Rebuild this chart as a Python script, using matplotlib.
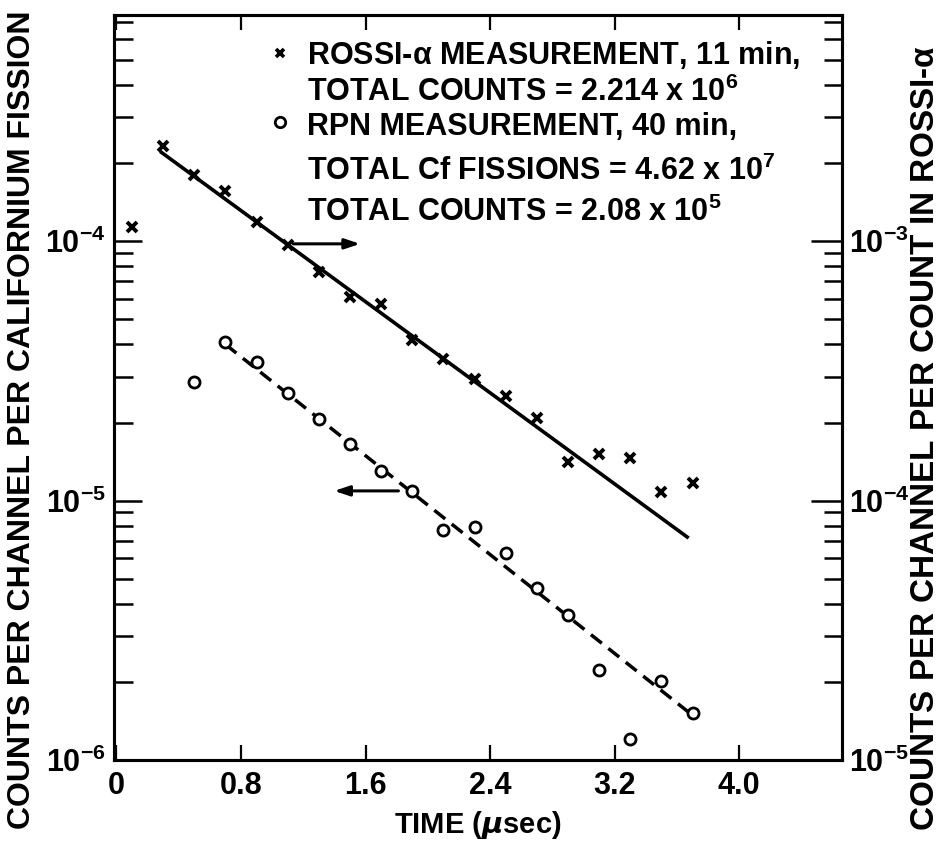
import matplotlib
matplotlib.use("Agg")
import matplotlib.pyplot as plt
from matplotlib.ticker import LogLocator, FixedLocator, FixedFormatter, NullFormatter

plt.rcParams['font.family'] = ['Liberation Sans', 'DejaVu Sans']
plt.rcParams['font.weight'] = 'bold'
plt.rcParams['mathtext.default'] = 'regular'

# ---- data ----
rossi_t = [0.1, 0.3, 0.5, 0.7, 0.9, 1.1, 1.3, 1.5, 1.7, 1.9, 2.1, 2.3, 2.5, 2.7, 2.9, 3.1, 3.3, 3.5, 3.7]
rossi_y = [1.13e-4, 2.32e-4, 1.80e-4, 1.556e-4, 1.19e-4, 0.963e-4, 0.76e-4, 0.607e-4, 5.71e-5,
           4.16e-5, 3.51e-5, 2.94e-5, 2.54e-5, 2.09e-5, 1.41e-5, 1.51e-5, 1.46e-5, 1.08e-5, 1.17e-5]

rpn_t = [0.5, 0.7, 0.9, 1.1, 1.3, 1.5, 1.7, 1.9, 2.1, 2.3, 2.5, 2.7, 2.9, 3.1, 3.3, 3.5, 3.7]
rpn_y = [2.87e-5, 4.07e-5, 3.42e-5, 2.60e-5, 2.06e-5, 1.66e-5, 1.30e-5, 1.09e-5, 7.71e-6,
         7.90e-6, 6.3e-6, 4.61e-6, 3.63e-6, 2.22e-6, 1.20e-6, 2.01e-6, 1.52e-6]

rossi_fit_t = [0.28, 3.675]
rossi_fit_y = [2.22e-4, 7.17e-6]
rpn_fit_t = [0.7, 3.68]
rpn_fit_y = [4.0e-5, 1.52e-6]

x_ticks = [0, 0.8, 1.6, 2.4, 3.2, 4.0]
x_labels = ['0', '0.8', '1.6', '2.4', '3.2', '4.0']
left_ticks = [1e-6, 1e-5, 1e-4]
left_labels = ['$10^{-6}$', '$10^{-5}$', '$10^{-4}$']
right_ticks = [1e-5, 1e-4, 1e-3]
right_labels = ['$10^{-5}$', '$10^{-4}$', '$10^{-3}$']

W, H = 948, 844
fig = plt.figure(figsize=(W / 100, H / 100), dpi=100)
ax = fig.add_axes([114 / W, 1 - 760 / H, (842 - 114) / W, (760 - 15) / H])

ax.set_yscale('log')
ax.set_xlim(-0.016, 4.66)
ax.set_ylim(1e-6, 7.45e-4)

# fits
ax.plot(rossi_fit_t, rossi_fit_y, color='black', lw=2.6, solid_capstyle='butt')
ax.plot(rpn_fit_t, rpn_fit_y, color='black', lw=2.5, linestyle=(0, (4, 2.4)))

# points
ax.plot(rossi_t, rossi_y, linestyle='none', marker='x', ms=6.5, mew=2.8, color='black', zorder=5)
ax.plot(rpn_t, rpn_y, linestyle='none', marker='o', ms=8, mew=2.0, mfc='white', mec='black', zorder=5)

# arrows
ax.annotate('', xy=(1.565, 0.977e-4), xytext=(1.136, 0.977e-4),
            arrowprops=dict(arrowstyle='-|>,head_length=0.9,head_width=0.3', color='black', lw=2.2,
                            shrinkA=0, shrinkB=0))
ax.annotate('', xy=(1.398, 1.09e-5), xytext=(1.811, 1.09e-5),
            arrowprops=dict(arrowstyle='-|>,head_length=0.9,head_width=0.3', color='black', lw=2.2,
                            shrinkA=0, shrinkB=0))

for s in ax.spines.values():
    s.set_linewidth(2.2)

ax.xaxis.set_major_locator(FixedLocator(x_ticks))
ax.xaxis.set_major_formatter(FixedFormatter(x_labels))
ax.xaxis.set_minor_locator(FixedLocator([]))
ax.tick_params(axis='x', which='major', direction='in', length=11, width=1.6, top=True,
               labelsize=22, pad=8)

ax.yaxis.set_major_locator(FixedLocator(left_ticks))
ax.yaxis.set_major_formatter(FixedFormatter(left_labels))
ax.yaxis.set_minor_locator(LogLocator(base=10, subs=[2, 3, 4, 5, 6, 7, 8, 9], numticks=20))
ax.yaxis.set_minor_formatter(NullFormatter())
ax.tick_params(axis='y', which='major', direction='in', length=20, width=1.8, labelsize=22, pad=6)
ax.tick_params(axis='y', which='minor', direction='in', length=14, width=1.8)

ax2 = ax.twinx()
ax2.set_yscale('log')
ax2.set_ylim(1e-5, 7.45e-3)
ax2.yaxis.set_major_locator(FixedLocator(right_ticks))
ax2.yaxis.set_major_formatter(FixedFormatter(right_labels))
ax2.yaxis.set_minor_locator(LogLocator(base=10, subs=[2, 3, 4, 5, 6, 7, 8, 9], numticks=20))
ax2.yaxis.set_minor_formatter(NullFormatter())
ax2.tick_params(axis='y', which='major', direction='in', length=22, width=1.8, labelsize=22, pad=5)
ax2.tick_params(axis='y', which='minor', direction='in', length=13, width=1.8)
for s in ax2.spines.values():
    s.set_linewidth(2.2)

ax.set_xlabel('TIME ($\\mathit{\\mu}$sec)', fontsize=21, fontweight='bold', labelpad=6)

fig.text(22 / W, 1 - 420 / H, 'COUNTS PER CHANNEL PER CALIFORNIUM FISSION', rotation=90,
         ha='center', va='center', fontsize=23, fontweight='bold')
fig.text(926 / W, 1 - 438 / H, 'COUNTS PER CHANNEL PER COUNT IN ROSSI-$\\alpha$', rotation=90,
         ha='center', va='center', fontsize=24, fontweight='bold')

# legend block
lines = [
    (55, 'ROSSI-$\\alpha$ MEASUREMENT, 11 min,'),
    (92, 'TOTAL COUNTS = 2.214 x 10$^{6}$'),
    (127, 'RPN MEASUREMENT, 40 min,'),
    (171, 'TOTAL Cf FISSIONS = 4.62 x 10$^{7}$'),
    (212, 'TOTAL COUNTS = 2.08 x 10$^{5}$'),
]
for py, txt in lines:
    fig.text(307 / W, 1 - py / H, txt, ha='left', va='center', fontsize=22, fontweight='bold')
fig.lines.append(plt.Line2D([280 / W], [1 - 53 / H], transform=fig.transFigure, marker='x',
                            ms=6, mew=2.6, color='black', linestyle='none'))
fig.lines.append(plt.Line2D([280 / W], [1 - 122 / H], transform=fig.transFigure, marker='o',
                            ms=7.5, mew=2.0, mfc='white', mec='black', linestyle='none'))

fig.savefig('out.png', dpi=100)
